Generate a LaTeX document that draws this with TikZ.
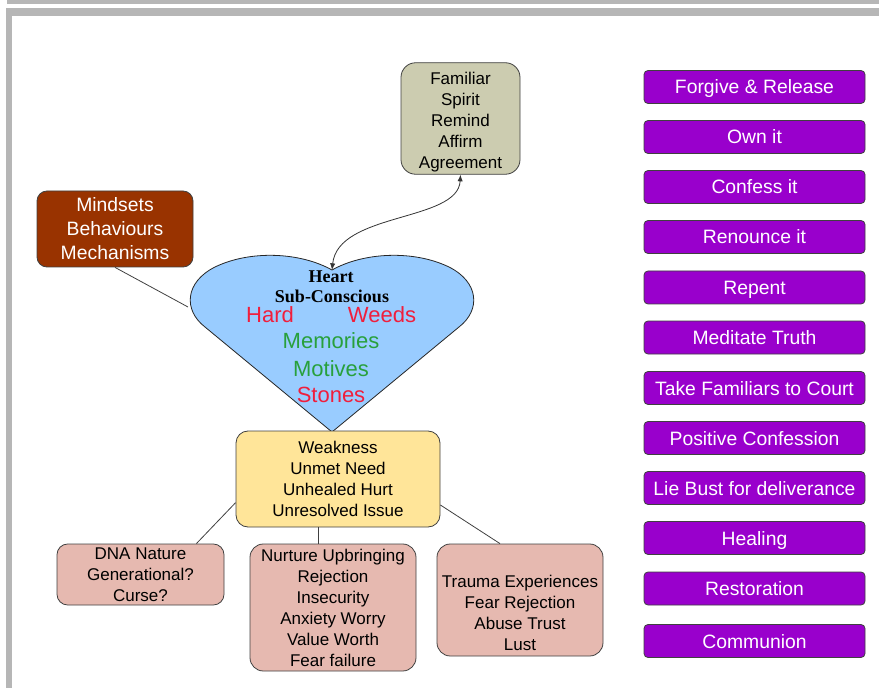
\documentclass[tikz,border=0pt]{standalone}
\usepackage{fontspec}
\setmainfont{Liberation Sans}
\newfontfamily\heartserif{Liberation Serif}
\usetikzlibrary{arrows.meta,positioning}
\definecolor{framegray}{RGB}{182,182,182}
\definecolor{famfill}{RGB}{204,204,176}
\definecolor{mindfill}{RGB}{153,51,0}
\definecolor{weakfill}{RGB}{255,229,153}
\definecolor{rootfill}{RGB}{230,185,176}
\definecolor{stepfill}{RGB}{153,0,204}
\definecolor{heartfill}{RGB}{153,204,255}
\definecolor{hred}{RGB}{240,30,60}
\definecolor{hgreen}{RGB}{40,160,60}

\begin{document}
\begin{tikzpicture}[x=0.75pt, y=-0.75pt,
    box/.style={draw=black!75, line width=0.6pt, rounded corners=8pt, align=center, inner sep=2pt, font=\fontsize{12.75}{15.75}\selectfont},
    root/.style={box, fill=rootfill, minimum width=124.5pt, rounded corners=10pt},
    action/.style={draw=black!75, line width=0.6pt, rounded corners=3pt, fill=stepfill, text=white, minimum width=165.75pt, minimum height=24.75pt, inner sep=0pt, text height=10.5pt, text depth=0pt, font=\fontsize{14.5}{17}\selectfont},
    lnk/.style={black!75, line width=0.6pt},
    arr/.style={{Latex[length=5pt,width=4pt]}-{Latex[length=5pt,width=4pt]}, black!80, line width=0.6pt},
    word/.style={anchor=base, font=\fontsize{16.5}{20}\selectfont},
    hlabel/.style={anchor=base, font=\heartserif\bfseries\fontsize{13.5}{16}\selectfont},
]
\useasboundingbox (0,0) rectangle (879,688);

% Frame
\fill[framegray] (7,0) rectangle (879,4);
\fill[framegray] (6,8) rectangle (879,16);
\fill[framegray] (6,8) rectangle (12,688);

% Top boxes
\node[box, fill=famfill, minimum width=89.25pt, minimum height=83.25pt, rounded corners=11pt] (fam) at (460.5,118.5) {\rule{0pt}{14pt}Familiar\\Spirit\\Remind\\Affirm\\Agreement};
\node[box, fill=mindfill, text=white, font=\fontsize{14.5}{18}\selectfont, minimum width=117pt, minimum height=57pt, rounded corners=7.5pt] (mind) at (115,229) {Mindsets\\Behaviours\\Mechanisms};

% Heart
\coordinate (hdip) at (332,270);
\coordinate (hleft) at (188,307);
\draw[lnk] (mind.south) -- (hleft);
\draw[black!85, line width=0.6pt, fill=heartfill] (332,432) -- (205,327) .. controls (183,310) and (185,282) .. (215,267) .. controls (250,250) and (300,252) .. (332,270) .. controls (364,252) and (414,250) .. (449,267) .. controls (479,282) and (481,310) .. (459,327) -- cycle;
\draw[arr] (fam.south) .. controls (458,222) and (338,212) .. (hdip);

% Heart text
\node[hlabel] (hheart) at (331,282) {Heart};
\node[hlabel] (hsub) at (332,303) {Sub-Conscious};
\node[word, text=hred] (hhard) at (270,323) {Hard};
\node[word, text=hred] (hweeds) at (382,323) {Weeds};
\node[word, text=hgreen] (hmem) at (331,349) {Memories};
\node[word, text=hgreen] (hmot) at (331,376) {Motives};
\node[word, text=hred] (hstones) at (331,402) {Stones};

% Roots
\node[box, fill=weakfill, minimum width=153pt, minimum height=72pt, rounded corners=9pt] (weak) at (338,479) {Weakness\\Unmet Need\\Unhealed Hurt\\Unresolved Issue};
\node[root, minimum width=125.25pt, minimum height=45.75pt, rounded corners=8pt] (dna) at (140.5,574.5) {DNA Nature\\Generational?\\Curse?};
\node[root, minimum height=95.25pt] (nurt) at (333,607.5) {Nurture Upbringing\\Rejection\\Insecurity\\Anxiety Worry\\Value Worth\\Fear failure};
\node[root, minimum height=84pt] (trauma) at (520,600) {\rule{0pt}{28pt}Trauma Experiences\\Fear Rejection\\Abuse Trust\\Lust};

% Root links
\coordinate (nurtin) at ([xshift=-11.25pt]nurt.north);
\draw[lnk] (weak.193) -- ([xshift=-21pt]dna.north east);
\draw[lnk] (nurtin) -- (nurtin |- weak.south);
\draw[lnk] ([yshift=-19.5pt]weak.east) -- ([xshift=-15pt]trauma.north);

% Steps
\node[action] (forgive) at (754.5,87) {Forgive \& Release};
\node[action] (own) at (754.5,137) {Own it};
\node[action] (confess) at (754.5,187) {Confess it};
\node[action] (renounce) at (754.5,237) {Renounce it};
\node[action] (repent) at (754.5,287.5) {Repent};
\node[action] (meditate) at (754.5,337.5) {Meditate Truth};
\node[action] (court) at (754.5,388) {Take Familiars to Court};
\node[action] (positive) at (754.5,438) {Positive Confession};
\node[action] (liebust) at (754.5,488) {Lie Bust for deliverance};
\node[action] (healing) at (754.5,538) {Healing};
\node[action] (restore) at (754.5,588.5) {Restoration};
\node[action] (communion) at (754.5,641) {Communion};

\end{tikzpicture}
\end{document}
